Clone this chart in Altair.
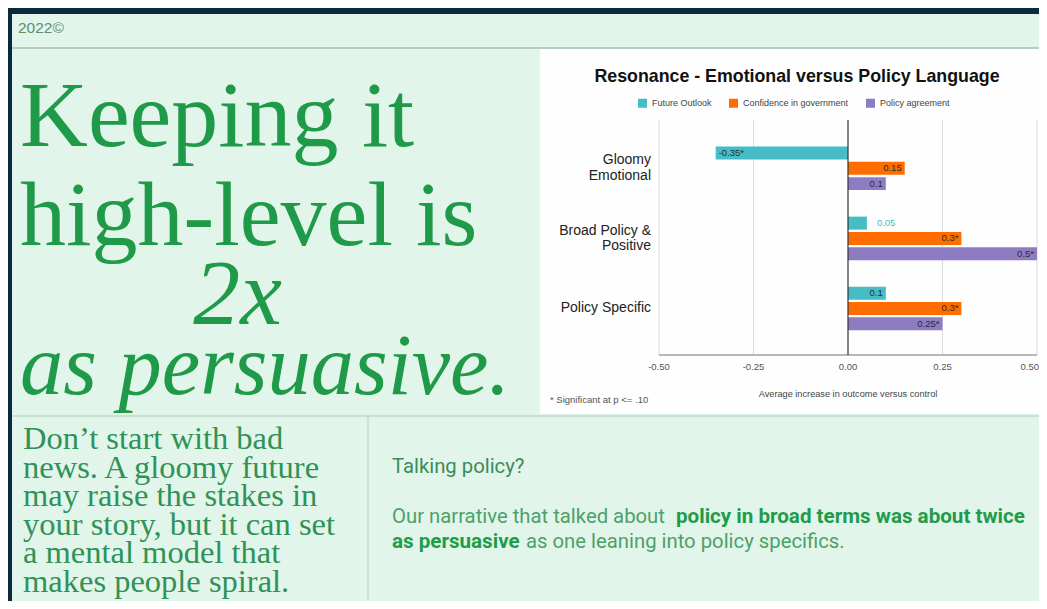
import altair as alt
import pandas as pd

# ---------------- data ----------------
categories = ["Gloomy Emotional", "Broad Policy & Positive", "Policy Specific"]
category_labels = ["Gloomy\nEmotional", "Broad Policy &\nPositive", "Policy Specific"]
series = ["Future Outlook", "Confidence in government", "Policy agreement"]
series_colors = ["#46bdc6", "#ff6d01", "#8e7cc3"]
future_outlook = [-0.35, 0.05, 0.10]
confidence_in_government = [0.15, 0.30, 0.30]
policy_agreement = [0.10, 0.50, 0.25]
future_outlook_sig = [True, False, False]
confidence_sig = [False, True, True]
policy_sig = [False, True, True]
tick_values = [-0.5, -0.25, 0.0, 0.25, 0.5]
tick_labels = ["-0.50", "-0.25", "0.00", "0.25", "0.50"]

chart_title = "Resonance - Emotional versus Policy Language"
x_title = "Average increase in outcome versus control"
footnote = "* Significant at p <= .10"
year_text = "2022©"
headline_lines = ["Keeping it", "high-level is", "2x", "as persuasive."]
body_left = ("Don’t start with bad\nnews. A gloomy future\nmay raise the stakes in\n"
             "your story, but it can set\na mental model that\nmakes people spiral.")
talk_head = "Talking policy?"
talk_l1_regular = "Our narrative that talked about"
talk_l1_bold = "policy in broad terms was about twice"
talk_l2_bold = "as persuasive"
talk_l2_regular = "as one leaning into policy specifics."

rows = []
for s, vals, sigs in zip(series,
                         [future_outlook, confidence_in_government, policy_agreement],
                         [future_outlook_sig, confidence_sig, policy_sig]):
    for c, v, sg in zip(categories, vals, sigs):
        place = "neg" if v < 0 else ("outside" if v < 0.08 else "inside")
        rows.append({"category": c, "series": s, "value": v,
                     "label": f"{v:g}" + ("*" if sg else ""), "place": place})
df = pd.DataFrame(rows)
df_cat = pd.DataFrame({"category": categories, "label": category_labels})
df_cat["lines"] = df_cat["label"].str.count("\n") + 1
df_ticks = pd.DataFrame({"tick": tick_values, "tlabel": tick_labels})

# ---------------- helpers ----------------
W, H = 1031, 593


def P(v):
    return v - 8  # page pixel -> chart pixel


one = alt.Data(values=[{"k": 1}])
SANS = "Liberation Sans"
SERIF = "Liberation Serif"
GREEN = "#1f9a48"


def txt(text, x, y, **kw):
    return alt.Chart(one).mark_text(text=text, **kw).encode(x=alt.value(x), y=alt.value(y))


def rect(x, x2, y, y2, color):
    return alt.Chart(one).mark_rect(color=color).encode(
        x=alt.value(x), x2=alt.value(x2), y=alt.value(y), y2=alt.value(y2))


def hline(x, x2, y, color, w):
    return alt.Chart(one).mark_rule(color=color, strokeWidth=w).encode(
        x=alt.value(x), x2=alt.value(x2), y=alt.value(y))


def vline(x, y, y2, color, w):
    return alt.Chart(one).mark_rule(color=color, strokeWidth=w).encode(
        x=alt.value(x), y=alt.value(y), y2=alt.value(y2))


xs = alt.Scale(domain=[-0.5, 0.5], range=[P(659), P(1037)])
ys = alt.Scale(domain=categories, range=[P(133.3), P(343.5)], paddingInner=0, paddingOuter=0)
yos = alt.Scale(domain=series, paddingInner=0.15, paddingOuter=0.866)

X = lambda f: alt.X(f, scale=xs, axis=None, stack=None)
Y = alt.Y("category:N", scale=ys, axis=None)
YO = alt.YOffset("series:N", scale=yos)

# ---------------- decoration ----------------
bg = rect(4, W, 6, 597, "#e2f5ea")
panel = rect(P(540), W, P(49), P(414), "#fdfefd")
top_line = hline(4, W, P(48), "#a3c2ac", 1.5)
mid_line = hline(4, W, P(416), "#bfd8c6", 1.5)
v_line = vline(P(368), P(416), 597, "#c4dccb", 1.5)

year = txt(year_text, P(18), P(28), align="left", baseline="middle",
           font=SANS, fontSize=15.5, color="#5f8f6f")

h1 = txt(headline_lines[0], P(20), P(146), align="left", baseline="alphabetic",
         font=SERIF, fontSize=94, color=GREEN)
h2 = txt(headline_lines[1], P(20), P(245), align="left", baseline="alphabetic",
         font=SERIF, fontSize=92, color=GREEN)
h3 = txt(headline_lines[2], P(237.6), P(324), align="center", baseline="alphabetic",
         font=SERIF, fontSize=94, fontStyle="italic", color=GREEN)
h4 = txt(headline_lines[3], P(20), P(394), align="left", baseline="alphabetic",
         font=SERIF, fontSize=86.5, fontStyle="italic", color=GREEN)

body = txt(body_left, P(23), P(449), align="left", baseline="alphabetic", font=SERIF,
           fontSize=32.5, lineBreak="\n", lineHeight=28.6, color="#2f9256")

RR = dict(align="left", baseline="alphabetic", font="Roboto", fontSize=20.3)
RBD = dict(align="left", baseline="alphabetic", font="Roboto", fontSize=20.6, fontWeight="bold")
t_head = txt(talk_head, P(392), P(473), color="#3b8c5a", **RR)
t_l1r = txt(talk_l1_regular, P(392), P(523), color="#4ca169", **RR)
t_l1b = txt(talk_l1_bold, P(676), P(523), color="#1e9c4a", **RBD)
t_l2b = txt(talk_l2_bold, P(392), P(548), color="#1e9c4a", **RBD)
t_l2r = txt(talk_l2_regular, P(526), P(548), color="#4ca169", **RR)

title = txt(chart_title, P(797), P(77), align="center", baseline="middle", font=SANS,
            fontSize=17.8, fontWeight="bold", color="#111111")
xtitle = txt(x_title, P(848), P(394), align="center", baseline="middle", font=SANS,
             fontSize=9.2, color="#444444")
foot = txt(footnote, P(550), P(400), align="left", baseline="middle", font=SANS,
           fontSize=9.5, color="#555555")

# ---------------- chart ----------------
grid = alt.Chart(df_ticks).mark_rule(color="#dadada", strokeWidth=1).encode(
    x=X("tick:Q"), y=alt.value(P(120)), y2=alt.value(P(355))
).transform_filter("datum.tick != 0")
zero = alt.Chart(df_ticks).mark_rule(color="#333333", strokeWidth=1.2).encode(
    x=X("tick:Q"), y=alt.value(P(120)), y2=alt.value(P(355))
).transform_filter("datum.tick == 0")
axis_line = hline(P(659), P(1037), P(355), "#a0a0a0", 1.3)
tick_text = alt.Chart(df_ticks).mark_text(font=SANS, fontSize=9.5, color="#555555",
                                          baseline="middle").encode(
    x=X("tick:Q"), y=alt.value(P(366.5)), text="tlabel:N"
).transform_filter("datum.tick < 0.5")
tick_last = alt.Chart(df_ticks).mark_text(font=SANS, fontSize=9.5, color="#555555",
                                          baseline="middle", align="right", dx=2).encode(
    x=X("tick:Q"), y=alt.value(P(366.5)), text="tlabel:N"
).transform_filter("datum.tick >= 0.5")

bars = alt.Chart(df).mark_bar().encode(
    x=X("value:Q"), y=Y, yOffset=YO,
    color=alt.Color("series:N", scale=alt.Scale(domain=series, range=series_colors),
                    legend=alt.Legend(orient="none", legendX=P(638), legendY=P(98.5),
                                      direction="horizontal", title=None,
                                      symbolType="square", symbolSize=81,
                                      symbolStrokeWidth=0, labelFont=SANS,
                                      labelFontSize=9, labelColor="#444444",
                                      labelOffset=5, columnPadding=17, padding=0)),
)

lab_neg = alt.Chart(df).mark_text(align="left", baseline="middle", dx=3, font=SANS,
                                  fontSize=9.5, color="#2b2b2b").encode(
    x=X("value:Q"), y=Y, yOffset=YO, text="label:N").transform_filter("datum.place == 'neg'")
lab_in = alt.Chart(df).mark_text(align="right", baseline="middle", dx=-3, font=SANS,
                                 fontSize=9.5, color="#2b2b2b").encode(
    x=X("value:Q"), y=Y, yOffset=YO, text="label:N").transform_filter("datum.place == 'inside'")
lab_out = alt.Chart(df).mark_text(align="left", baseline="middle", dx=10, font=SANS,
                                  fontSize=9.5, color="#46bdc6").encode(
    x=X("value:Q"), y=Y, yOffset=YO, text="label:N").transform_filter("datum.place == 'outside'")

CAT = dict(align="right", baseline="middle", font=SANS, fontSize=14, color="#222222",
           lineBreak="\n", lineHeight=15.7)
cat_one = alt.Chart(df_cat).mark_text(**CAT).encode(
    x=alt.value(P(651)), y=Y, text="label:N").transform_filter("datum.lines == 1")
cat_two = alt.Chart(df_cat).mark_text(dy=-7.85, **CAT).encode(
    x=alt.value(P(651)), y=Y, text="label:N").transform_filter("datum.lines == 2")

chart = alt.layer(
    bg, panel, top_line, mid_line, v_line, year, h1, h2, h3, h4, body,
    t_head, t_l1r, t_l1b, t_l2b, t_l2r, title, xtitle, foot,
    grid, axis_line, bars, zero, tick_text, tick_last, lab_neg, lab_in, lab_out,
    cat_one, cat_two,
).properties(
    width=W, height=H, padding=0,
    autosize=alt.AutoSizeParams(type="none"),
    background="#0b2a3c",
).configure_view(stroke=None)

chart.save("out.html", embed_options={"renderer": "svg", "actions": False})
